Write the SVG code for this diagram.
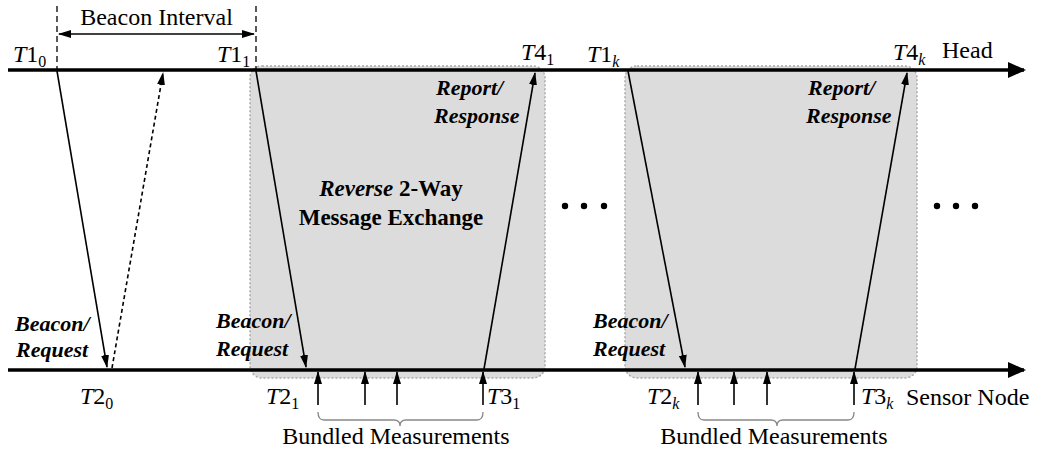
<svg xmlns="http://www.w3.org/2000/svg" width="1042" height="452" viewBox="0 0 1042 452" font-family="'Liberation Serif', 'DejaVu Serif', serif">
<style>
text{font-family:'Liberation Serif','DejaVu Serif',serif}
.t{font-size:24px;fill:#000}
.bi{font-size:22px;font-weight:bold;font-style:italic;fill:#000}
.b{font-size:23px;font-weight:bold;fill:#000}
.sub{font-size:16px}
.box{fill:#dcdcdc;stroke:#aaa;stroke-width:1.5;stroke-dasharray:2,2}
.msg{stroke:#000;stroke-width:1.6;fill:none}
.axis{stroke:#000;stroke-width:3.5;fill:none}
.brace{stroke:#888;stroke-width:1.3;fill:none}
</style>
<defs>
<marker id="ah" markerWidth="13" markerHeight="10" refX="12" refY="5" orient="auto" markerUnits="userSpaceOnUse"><path d="M0,1 L13,5 L0,9 Z" fill="#000"/></marker>
<marker id="ahs" markerWidth="13" markerHeight="10" refX="1" refY="5" orient="auto" markerUnits="userSpaceOnUse"><path d="M13,1 L0,5 L13,9 Z" fill="#000"/></marker>
<marker id="big" markerWidth="18" markerHeight="16" refX="16" refY="8" orient="auto" markerUnits="userSpaceOnUse"><path d="M0,0 L18,8 L0,16 Z" fill="#000"/></marker>
</defs>

<g id="exchange1"><rect class="box" x="250" y="66" width="295" height="312" rx="12"/></g>
<g id="exchange2"><rect class="box" x="625" y="66" width="292" height="312" rx="12"/></g>

<g id="head-axis"><line class="axis" x1="8" y1="70" x2="1024" y2="70" marker-end="url(#big)"/>
<text class="t" x="942" y="58">Head</text></g>
<g id="sensor-axis"><line class="axis" x1="8" y1="370" x2="1024" y2="370" marker-end="url(#big)"/>
<text class="t" x="906" y="405">Sensor Node</text></g>

<g id="beacon-interval">
<line x1="57" y1="6" x2="57" y2="70" stroke="#000" stroke-width="1.3" stroke-dasharray="6,4"/>
<line x1="256" y1="6" x2="256" y2="70" stroke="#000" stroke-width="1.3" stroke-dasharray="6,4"/>
<line x1="59" y1="34" x2="254" y2="34" stroke="#000" stroke-width="1.6" marker-start="url(#ahs)" marker-end="url(#ah)"/>
<text class="t" x="156.5" y="25" text-anchor="middle">Beacon Interval</text>
</g>

<g id="connectors">
<line class="msg" x1="57" y1="71" x2="107" y2="367" marker-end="url(#ah)"/>
<line class="msg" x1="112" y1="368" x2="163" y2="73" stroke-dasharray="4,3" marker-end="url(#ah)"/>
<line class="msg" x1="256" y1="71" x2="306" y2="367" marker-end="url(#ah)"/>
<line class="msg" x1="484" y1="369" x2="535" y2="73" marker-end="url(#ah)"/>
<line class="msg" x1="628" y1="71" x2="685" y2="367" marker-end="url(#ah)"/>
<line class="msg" x1="855" y1="369" x2="907" y2="73" marker-end="url(#ah)"/>
<line class="msg" x1="318" y1="405" x2="318" y2="372" marker-end="url(#ah)"/>
<line class="msg" x1="365" y1="405" x2="365" y2="372" marker-end="url(#ah)"/>
<line class="msg" x1="397" y1="405" x2="397" y2="372" marker-end="url(#ah)"/>
<line class="msg" x1="483" y1="405" x2="483" y2="372" marker-end="url(#ah)"/>
<line class="msg" x1="698" y1="405" x2="698" y2="372" marker-end="url(#ah)"/>
<line class="msg" x1="734" y1="405" x2="734" y2="372" marker-end="url(#ah)"/>
<line class="msg" x1="767" y1="405" x2="767" y2="372" marker-end="url(#ah)"/>
<line class="msg" x1="854" y1="405" x2="854" y2="372" marker-end="url(#ah)"/>
<path class="brace" d="M318,412 Q318,420 324,420 L394,420 Q400,420 400,426 Q400,420 406,420 L477,420 Q483,420 483,412"/>
<path class="brace" d="M698,412 Q698,420 704,420 L771,420 Q777,420 777,426 Q777,420 783,420 L848,420 Q854,420 854,412"/>
</g>

<g id="time-labels">
<text class="t" x="13" y="62" font-size="25"><tspan font-style="italic">T</tspan>1<tspan class="sub" dy="5">0</tspan></text>
<text class="t" x="217" y="62"><tspan font-style="italic">T</tspan>1<tspan class="sub" dy="5">1</tspan></text>
<text class="t" x="521" y="60"><tspan font-style="italic">T</tspan>4<tspan class="sub" dy="5">1</tspan></text>
<text class="t" x="587" y="62"><tspan font-style="italic">T</tspan>1<tspan class="sub" dy="5" font-style="italic">k</tspan></text>
<text class="t" x="893" y="60"><tspan font-style="italic">T</tspan>4<tspan class="sub" dy="5" font-style="italic">k</tspan></text>
<text class="t" x="80" y="404"><tspan font-style="italic">T</tspan>2<tspan class="sub" dy="5">0</tspan></text>
<text class="t" x="266" y="404"><tspan font-style="italic">T</tspan>2<tspan class="sub" dy="5">1</tspan></text>
<text class="t" x="487" y="404"><tspan font-style="italic">T</tspan>3<tspan class="sub" dy="5">1</tspan></text>
<text class="t" x="647" y="404"><tspan font-style="italic">T</tspan>2<tspan class="sub" dy="5" font-style="italic">k</tspan></text>
<text class="t" x="861" y="404"><tspan font-style="italic">T</tspan>3<tspan class="sub" dy="5" font-style="italic">k</tspan></text>
</g>

<g id="message-labels">
<text class="bi" x="15" y="331">Beacon/</text>
<text class="bi" x="16" y="357">Request</text>
<text class="bi" x="216" y="328">Beacon/</text>
<text class="bi" x="216" y="356">Request</text>
<text class="bi" x="593" y="328">Beacon/</text>
<text class="bi" x="593" y="356">Request</text>
<text class="bi" x="436" y="95">Report/</text>
<text class="bi" x="434" y="123">Response</text>
<text class="bi" x="808" y="95">Report/</text>
<text class="bi" x="806" y="123">Response</text>
<text class="b" x="391" y="196" text-anchor="middle"><tspan font-style="italic">Reverse</tspan> 2-Way</text>
<text class="b" x="391" y="225" text-anchor="middle">Message Exchange</text>
<text class="t" x="396" y="444" text-anchor="middle">Bundled Measurements</text>
<text class="t" x="774" y="444" text-anchor="middle">Bundled Measurements</text>
</g>

<g id="ellipsis" fill="#000">
<circle cx="565" cy="206" r="3.2"/><circle cx="584" cy="206" r="3.2"/><circle cx="604" cy="206" r="3.2"/>
<circle cx="937" cy="206" r="3.2"/><circle cx="956" cy="206" r="3.2"/><circle cx="975" cy="206" r="3.2"/>
</g>
</svg>
